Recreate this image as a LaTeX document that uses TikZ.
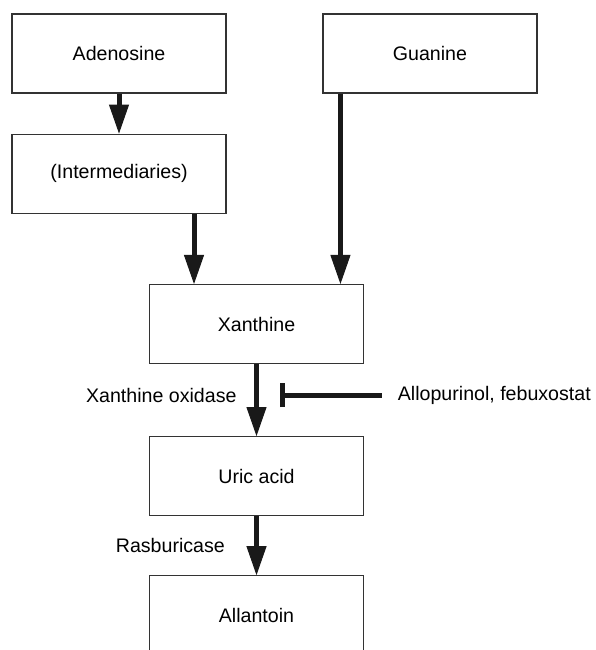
\documentclass[tikz,border=0pt]{standalone}
\usepackage{fontspec}
\setmainfont{Liberation Sans}
\usetikzlibrary{positioning,arrows.meta}

\begin{document}
\begin{tikzpicture}[
  x=1pt, y=-1pt,
  font=\fontsize{19.6}{23}\selectfont,
  box/.style={draw=black!80, line width=1.1pt, minimum width=214pt, minimum height=79pt, align=center},
  arrow/.style={-{Triangle[length=29pt,width=20pt,line width=1pt]}, line width=5pt, black!90},
  inhibit/.style={-{Bar[width=24pt]}, line width=5pt, black!90},
  note/.style={inner sep=0pt}
]
\useasboundingbox (0,0) rectangle (595,650);
\clip (0,0) rectangle (595,650);
\node[box] (adeno) at (119,53.5) {Adenosine};
\node[box, below=40pt of adeno] (inter) {(Intermediaries)};
\node[box] (guan) at (430,53.5) {Guanine};
\node[box] (xan) at (256.5,324) {Xanthine};
\node[box, below=72pt of xan] (uric) {Uric acid};
\node[box, below=59pt of uric] (allan) {Allantoin};
% enzymes and drugs
\node[note, anchor=east] (xo) at (236.7,395) {Xanthine oxidase};
\node[note, anchor=west] (drug) at (397.7,395) {Allopurinol, febuxostat};
\node[note, anchor=east] (rasb) at (225,545) {Rasburicase};
\draw[arrow] (adeno) -- (inter);
\draw[arrow] ([xshift=75pt]inter.south) -- ([xshift=75pt]inter.south |- xan.north);
\draw[arrow] ([xshift=18pt]guan.south west) -- ([xshift=18pt]guan.south west |- xan.north);
\draw[arrow] (xan) -- (uric);
\draw[arrow] (uric) -- (allan);
\draw[inhibit] ([xshift=-16pt]drug.west) -- ([xshift=23.5pt]xan.south |- drug.west);
\end{tikzpicture}
\end{document}
